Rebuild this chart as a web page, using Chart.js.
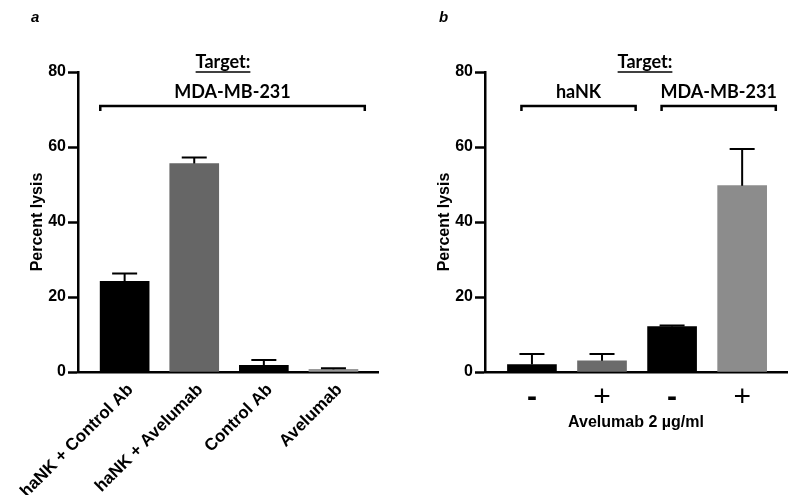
<!DOCTYPE html>
<html>
<head>
<meta charset="utf-8">
<script src="https://cdn.jsdelivr.net/npm/chart.js@4"></script>
<style>
    body { margin: 0; background: #fff; }
    .panel { position: absolute; top: 0; width: 400px; height: 495px; }
</style>
</head>
<body>
<div class="panel" style="left:0"><canvas id="chartA"></canvas></div>
<div class="panel" style="left:400px"><canvas id="chartB"></canvas></div>
<script>
// panel a
const labelsA = ['haNK + Control Ab', 'haNK + Avelumab', 'Control Ab', 'Avelumab'];
const valuesA = [24.2, 55.6, 1.8, 0.7];
const errorsA = [2.1, 1.6, 1.4, 0.3];
const colorsA = ['#000000', '#666666', '#000000', '#999999'];

// panel b
const labelsB = ['-', '+', '-', '+'];
const valuesB = [2.0, 3.0, 12.1, 49.7];
const errorsB = [2.8, 1.8, 0.3, 9.8];
const colorsB = ['#000000', '#6b6b6b', '#000000', '#8c8c8c'];
const groupsB = [
    { label: 'haNK', from: 0, to: 1 },
    { label: 'MDA-MB-231', from: 2, to: 3 }
];
const groupsA = [{ label: 'MDA-MB-231', from: 0, to: 3 }];

const yTicks = [0, 20, 40, 60, 80];
const AXIS_FONT = '"Liberation Sans", Arial, sans-serif';
const NOTE_FONT = 'Lato, "Open Sans", sans-serif';

// error bars (upper only), brackets and panel notes
const extrasPlugin = {
    id: 'extras',
    afterDatasetsDraw(chart, args, opts) {
        const ctx = chart.ctx;
        const meta = chart.getDatasetMeta(0);
        const yScale = chart.scales.y;
        const xScale = chart.scales.x;
        const vals = chart.data.datasets[0].data;

        ctx.save();
        ctx.strokeStyle = '#000';
        ctx.lineWidth = 2;
        meta.data.forEach((bar, i) => {
            const yTop = yScale.getPixelForValue(vals[i].y + opts.errors[i]);
            ctx.beginPath();
            ctx.moveTo(bar.x, bar.y);
            ctx.lineTo(bar.x, yTop);
            ctx.moveTo(bar.x - 12.5, yTop);
            ctx.lineTo(bar.x + 12.5, yTop);
            ctx.stroke();
        });

        // panel letter
        ctx.fillStyle = '#000';
        ctx.font = 'italic bold 15px ' + AXIS_FONT;
        ctx.textAlign = 'left';
        ctx.textBaseline = 'middle';
        ctx.fillText(opts.letter, opts.letterX, 18);

        // "Target:" underlined
        ctx.font = 'bold 18px ' + NOTE_FONT;
        ctx.textAlign = 'center';
        const tx = opts.targetX;
        ctx.fillText('Target:', tx, 62);
        const tw = ctx.measureText('Target:').width;
        ctx.lineWidth = 1.5;
        ctx.beginPath();
        ctx.moveTo(tx - tw / 2, 72);
        ctx.lineTo(tx + tw / 2, 72);
        ctx.stroke();

        // group brackets
        const step = xScale.getPixelForValue(1) - xScale.getPixelForValue(0);
        opts.groups.forEach(g => {
            const x1 = xScale.getPixelForValue(g.from) - opts.padL * step;
            const x2 = xScale.getPixelForValue(g.to) + opts.padR * step;
            ctx.lineWidth = 2.5;
            ctx.beginPath();
            ctx.moveTo(x1, 111);
            ctx.lineTo(x1, 106);
            ctx.lineTo(x2, 106);
            ctx.lineTo(x2, 111);
            ctx.stroke();
            ctx.fillText(g.label, (x1 + x2) / 2 + opts.labelShift, 92);
        });
        ctx.restore();
    }
};

function makeChart(id, labels, values, colors, errors, extra) {
    return new Chart(document.getElementById(id), {
        type: 'bar',
        data: {
            datasets: [{
                data: values.map((v, i) => ({ x: i, y: v })),
                backgroundColor: colors,
                borderWidth: 0,
                barThickness: 49
            }]
        },
        options: {
            responsive: true,
            maintainAspectRatio: false,
            animation: false,
            layout: { padding: extra.padding },
            plugins: {
                legend: { display: false },
                tooltip: { enabled: false },
                extras: Object.assign({ errors: errors }, extra.notes)
            },
            scales: {
                x: {
                    type: 'linear',
                    offset: false,
                    min: -0.67,
                    max: 3.64,
                    afterBuildTicks: s => { s.ticks = labels.map((_, i) => ({ value: i })); },
                    afterFit: s => {
                        // keep the plot area fixed; long rotated labels may hang left
                        s.height = extra.xHeight;
                        s.paddingLeft = 0;
                        s.paddingRight = 0;
                    },
                    grid: { display: true, offset: false, drawOnChartArea: false, drawTicks: false },
                    border: { display: true, color: '#000', width: 2.5 },
                    ticks: Object.assign({
                        autoSkip: false,
                        color: '#000',
                        callback: v => labels[v]
                    }, extra.xTicks),
                    title: extra.xTitle
                },
                y: {
                    min: 0,
                    max: 80,
                    afterBuildTicks: s => { s.ticks = yTicks.map(v => ({ value: v })); },
                    afterFit: s => { s.width = 78; },
                    grid: { drawOnChartArea: false, drawTicks: true, tickLength: 10, tickWidth: 2.5, color: '#000' },
                    border: { display: true, color: '#000', width: 2.5 },
                    ticks: { color: '#000', padding: 2, font: { family: AXIS_FONT, size: 16, weight: 'bold' } },
                    title: {
                        display: true,
                        text: 'Percent lysis',
                        color: '#000',
                        padding: { top: 28, bottom: 0 },
                        font: { family: AXIS_FONT, size: 16, weight: 'bold' }
                    }
                }
            }
        },
        plugins: [extrasPlugin]
    });
}

makeChart('chartA', labelsA, valuesA, colorsA, errorsA, {
    padding: { left: 0, right: 22, top: 72, bottom: 0 },
    xHeight: 123,
    xTicks: { minRotation: 45, maxRotation: 45, padding: 8, labelOffset: 6, font: { family: AXIS_FONT, size: 17, weight: 'bold' } },
    xTitle: { display: false },
    notes: { letter: 'a', letterX: 31, targetX: 223, groups: groupsA, padL: 0.35, padR: 0.45, labelShift: 0 }
});

makeChart('chartB', labelsB, valuesB, colorsB, errorsB, {
    padding: { left: 7, right: 13, top: 72, bottom: 63 },
    xHeight: 60,
    xTicks: {
        padding: 8,
        font: ctx => ({ family: AXIS_FONT, size: 30, weight: labelsB[ctx.index] === '-' ? 'bold' : 'normal' })
    },
    xTitle: {
        display: true,
        text: 'Avelumab 2 µg/ml',
        color: '#000',
        padding: 0,
        font: { family: AXIS_FONT, size: 16, weight: 'bold' }
    },
    notes: { letter: 'b', letterX: 39, targetX: 245, groups: groupsB, padL: 0.15, padR: 0.48, labelShift: 0 }
});
</script>
</body>
</html>
